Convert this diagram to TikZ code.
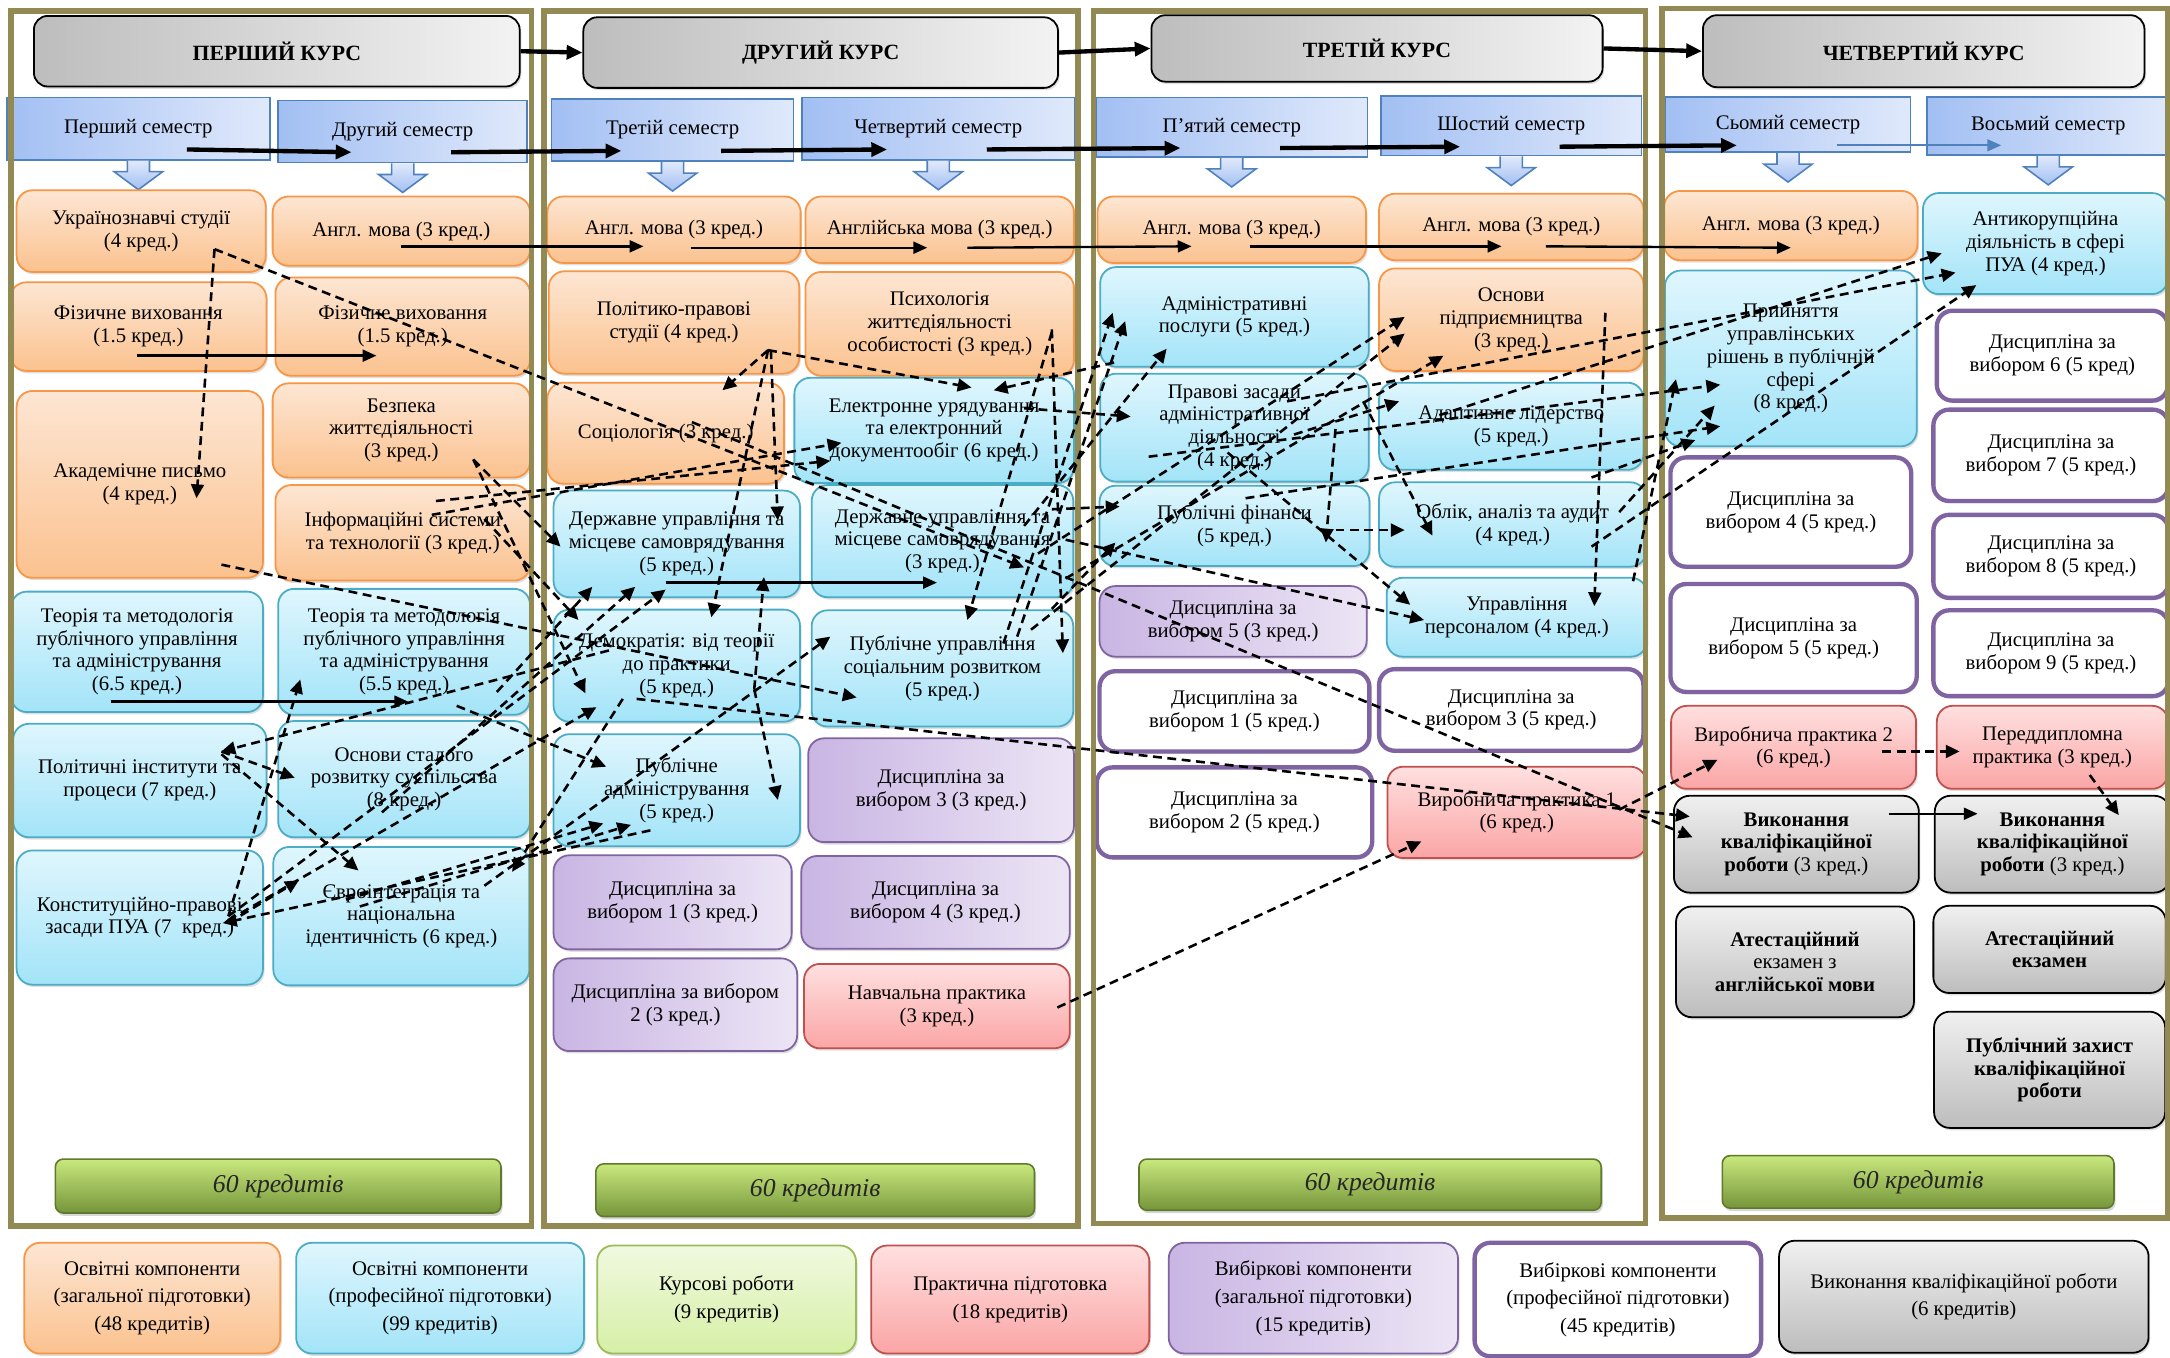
\documentclass[tikz,border=0pt]{standalone}
\usepackage{fontspec}
\setmainfont{Liberation Serif}
\usetikzlibrary{arrows.meta,calc,shadows}
\definecolor{orB}{HTML}{F79646}\definecolor{orT}{HTML}{FDE6D3}\definecolor{orD}{HTML}{FBC28F}
\definecolor{cyB}{HTML}{4BACC6}\definecolor{cyL}{HTML}{DFF6FD}\definecolor{cyD}{HTML}{A3E4F8}
\definecolor{puB}{HTML}{8064A2}\definecolor{puL}{HTML}{ECE5F5}\definecolor{puD}{HTML}{C9B5E3}
\definecolor{rdB}{HTML}{C0504D}\definecolor{rdL}{HTML}{FFE0E0}\definecolor{rdD}{HTML}{FBA5A5}
\definecolor{gyL}{HTML}{F0F0F0}\definecolor{gyD}{HTML}{BDBDBD}
\definecolor{blB}{HTML}{4F81BD}\definecolor{blL}{HTML}{E0E9FB}\definecolor{blD}{HTML}{A2BFF3}
\definecolor{frameol}{HTML}{938953}
\definecolor{grL}{HTML}{C9E87E}\definecolor{grD}{HTML}{76953A}\definecolor{grB}{HTML}{5F7A2C}
\definecolor{lgL}{HTML}{F0F9DF}\definecolor{lgD}{HTML}{D6EFA6}\definecolor{lgB}{HTML}{9BBB59}
\begin{document}
\begin{tikzpicture}[x=0.7pt,y=-0.7pt,
  sz/.style 2 args={minimum width=#1*0.7pt,minimum height=#2*0.7pt},
  crs/.style={rounded corners=8pt,align=center,inner sep=1pt,font=\fontsize{10.5}{11.5}\selectfont,
    drop shadow={opacity=.25,shadow xshift=.8pt,shadow yshift=-1.2pt}},
  obox/.style={crs,draw=orB,line width=.9pt,top color=orT,bottom color=orD},
  cbox/.style={crs,draw=cyB,line width=.9pt,top color=cyL,bottom color=cyD},
  pbox/.style={crs,draw=puB,line width=.9pt,left color=puD,right color=puL},
  wbox/.style={crs,draw=puB,line width=2.2pt,fill=white},
  rbox/.style={crs,draw=rdB,line width=.9pt,top color=rdL,bottom color=rdD},
  gbox/.style={crs,draw=black,line width=.9pt,top color=gyL,bottom color=gyD},
  lbox/.style={crs,draw=lgB,line width=.9pt,top color=lgL,bottom color=lgD},
  legend/.style={font=\fontsize{10.5}{14}\selectfont},
  sembox/.style={draw=blB,line width=.8pt,left color=blD,right color=blL,inner sep=1pt,
    font=\fontsize{10.5}{11.5}\selectfont},
  semdown/.style={draw=blB,line width=.8pt,top color=blL,bottom color=blD},
  kursbox/.style={gbox,left color=gyD,right color=gyL!80!white,rounded corners=7pt,
    font=\bfseries\fontsize{11}{12}\selectfont},
  credbar/.style={rounded corners=4pt,draw=grB,line width=.8pt,top color=grL,bottom color=grD,
    text=black!85,font=\itshape\fontsize{13}{14}\selectfont,
    drop shadow={opacity=.3,shadow xshift=.8pt,shadow yshift=-1.5pt}},
  yearframe/.style={draw=frameol,line width=2.8pt},
  dep/.style={line width=1.3pt,dash pattern=on 4.5pt off 2.8pt,-{Triangle[length=7pt,width=6.5pt]}},
  seq/.style={line width=1.2pt,-{Triangle[length=7pt,width=6pt]}},
  semseq/.style={line width=2.2pt,-{Triangle[length=8pt,width=7pt]}}]
\fill[white] (0,0) rectangle (1568,981);
\useasboundingbox (0,0) rectangle (1568,981);

\node[kursbox,sz={351}{51}] (kurs1) at (200,37) {ПЕРШИЙ КУРС};
\node[kursbox,sz={343}{51}] (kurs2) at (593,38) {ДРУГИЙ КУРС};
\node[kursbox,sz={326}{48}] (kurs3) at (995,35) {ТРЕТІЙ КУРС};
\node[kursbox,sz={319}{52}] (kurs4) at (1390,37) {ЧЕТВЕРТИЙ КУРС};

\node[sembox,sz={190}{45}] (s1) at (100,93) {Перший семестр};
\node[sembox,sz={180}{45}] (s2) at (291,95) {Другий семестр};
\node[sembox,sz={175}{45}] (s3) at (486,94) {Третій семестр};
\node[sembox,sz={197}{45}] (s4) at (678,93) {Четвертий семестр};
\node[sembox,sz={196}{43}] (s5) at (890,92) {П’ятий семестр};
\node[sembox,sz={188}{43}] (s6) at (1092,91) {Шостий семестр};
\node[sembox,sz={177}{40}] (s7) at (1292,90) {Сьомий семестр};
\node[sembox,sz={175}{42}] (s8) at (1480,91) {Восьмий семестр};
\foreach \i in {1,...,8}
  \draw[semdown] ($(s\i.south)+(-8,0)$) -- ++(0,8) -- ++(-9.5,0) -- ++(17.5,13) -- ++(17.5,-13) -- ++(-9.5,0) -- ++(0,-8);

\node[obox,sz={180}{59}] (ukr) at (102,167) {Українознавчі студії\\(4 кред.)};
\node[obox,sz={185}{64}] (fiz1) at (100,236) {Фізичне виховання\\(1.5 кред.)};
\node[obox,sz={178}{135}] (akad) at (101,350) {Академічне письмо\\(4 кред.)};
\node[cbox,sz={182}{87}] (teor1) at (99,471) {Теорія та методологія\\публічного управління\\та адміністрування\\(6.5 кред.)};
\node[cbox,sz={183}{82}] (polit) at (101,564) {Політичні інститути та\\процеси (7 кред.)};
\node[cbox,sz={178}{97}] (konst) at (101,663) {Конституційно-правові\\засади ПУА (7\ \ кред.)};

\node[obox,sz={186}{50}] (eng2) at (290,167) {Англ. мова (3 кред.)};
\node[obox,sz={184}{71}] (fiz2) at (291,236) {Фізичне виховання\\(1.5 кред.)};
\node[obox,sz={186}{68}] (bezp) at (290,311) {Безпека\\життєдіяльності\\(3 кред.)};
\node[obox,sz={184}{69}] (inf) at (291,385) {Інформаційні системи\\та технології (3 кред.)};
\node[cbox,sz={182}{91}] (teor2) at (292,471) {Теорія та методологія\\публічного управління\\та адміністрування\\(5.5 кред.)};
\node[cbox,sz={182}{84}] (stal) at (292,563) {Основи сталого\\розвитку суспільства\\(8 кред.)};
\node[cbox,sz={185}{100}] (evro) at (290,662) {Євроінтеграція та\\національна\\ідентичність (6 кред.)};

\node[obox,sz={183}{48}] (eng3) at (487,166) {Англ. мова (3 кред.)};
\node[obox,sz={181}{74}] (polpr) at (487,233) {Політико-правові\\студії (4 кред.)};
\node[obox,sz={171}{73}] (soc) at (481,313) {Соціологія (3 кред.)};
\node[cbox,sz={178}{77}] (du3) at (489,393) {Державне управління та\\місцеве самоврядування\\(5 кред.)};
\node[cbox,sz={178}{81}] (dem) at (489,481) {Демократія: від теорії\\до практики\\(5 кред.)};
\node[cbox,sz={178}{81}] (pubadm) at (489,571) {Публічне\\адміністрування\\(5 кред.)};
\node[pbox,sz={172}{68}] (vyb1) at (486,652) {Дисципліна за\\вибором 1 (3 кред.)};
\node[pbox,sz={176}{67}] (vyb2) at (488,726) {Дисципліна за вибором\\2 (3 кред.)};

\node[obox,sz={194}{48}] (eng4) at (679,166) {Англійська мова (3 кред.)};
\node[obox,sz={194}{75}] (psych) at (679,234) {Психологія\\життєдіяльності\\особистості (3 кред.)};
\node[cbox,sz={202}{76}] (el) at (675,311) {Електронне урядування\\та електронний\\документообіг (6 кред.)};
\node[cbox,sz={189}{81}] (du4) at (681,391) {Державне управління та\\місцеве самоврядування\\(3 кред.)};
\node[cbox,sz={189}{84}] (psr) at (681,483) {Публічне управління\\соціальним розвитком\\(5 кред.)};
\node[pbox,sz={192}{75}] (vyb3) at (680,571) {Дисципліна за\\вибором 3 (3 кред.)};
\node[pbox,sz={194}{67}] (vyb4) at (676,652) {Дисципліна за\\вибором 4 (3 кред.)};
\node[rbox,sz={192}{61}] (navch) at (677,727) {Навчальна практика\\(3 кред.)};

\node[obox,sz={194}{48}] (eng5) at (890,166) {Англ. мова (3 кред.)};
\node[cbox,sz={194}{72}] (admp) at (892,229) {Адміністративні\\послуги (5 кред.)};
\node[cbox,sz={194}{78}] (prav) at (892,309) {Правові засади\\адміністративної\\діяльності\\(4 кред.)};
\node[cbox,sz={195}{58}] (fin) at (892,380) {Публічні фінанси\\(5 кред.)};
\node[pbox,sz={193}{51}] (vyb5) at (891,449) {Дисципліна за\\вибором 5 (3 кред.)};
\node[wbox,sz={195}{58}] (vybp1) at (892,514) {Дисципліна за\\вибором 1 (5 кред.)};
\node[wbox,sz={199}{65}] (vybp2) at (892,587) {Дисципліна за\\вибором 2 (5 кред.)};

\node[obox,sz={191}{48}] (eng6) at (1092,164) {Англ. мова (3 кред.)};
\node[obox,sz={191}{74}] (pidpr) at (1092,231) {Основи\\підприємництва\\(3 кред.)};
\node[cbox,sz={191}{63}] (adapt) at (1092,308) {Адаптивне лідерство\\(5 кред.)};
\node[cbox,sz={193}{61}] (oblik) at (1093,379) {Облік, аналіз та аудит\\(4 кред.)};
\node[cbox,sz={188}{57}] (pers) at (1096,446) {Управління\\персоналом (4 кред.)};
\node[wbox,sz={191}{59}] (vybp3) at (1092,513) {Дисципліна за\\вибором 3 (5 кред.)};
\node[rbox,sz={187}{66}] (vyrob1) at (1096,587) {Виробнича практика 1\\(6 кред.)};

\node[obox,sz={183}{50}] (eng7) at (1294,163) {Англ. мова (3 кред.)};
\node[cbox,sz={182}{127}] (pryin) at (1294,259) {Прийняття\\управлінських\\рішень в публічній\\сфері\\(8 кред.)};
\node[wbox,sz={174}{79}] (vybp4) at (1294,370) {Дисципліна за\\вибором 4 (5 кред.)};
\node[wbox,sz={178}{78}] (vybp5) at (1296,461) {Дисципліна за\\вибором 5 (5 кред.)};
\node[rbox,sz={177}{60}] (vyrob2) at (1296,540) {Виробнича практика 2\\(6 кред.)};
\node[gbox,sz={177}{70}] (kval7) at (1298,610) {\textbf{Виконання}\\\textbf{кваліфікаційної}\\\textbf{роботи} (3 кред.)};
\node[gbox,sz={172}{80}] (atest7) at (1297,695) {\textbf{Атестаційний}\\екзамен з\\\textbf{англійської мови}};

\node[cbox,sz={177}{73}] (antyk) at (1478,176) {Антикорупційна\\діяльність в сфері\\ПУА (4 кред.)};
\node[wbox,sz={167}{65}] (vybp6) at (1483,257) {Дисципліна за\\вибором 6 (5 кред)};
\node[wbox,sz={170}{66}] (vybp7) at (1482,329) {Дисципліна за\\вибором 7 (5 кред.)};
\node[wbox,sz={170}{60}] (vybp8) at (1482,402) {Дисципліна за\\вибором 8 (5 кред.)};
\node[wbox,sz={170}{62}] (vybp9) at (1482,472) {Дисципліна за\\вибором 9 (5 кред.)};
\node[rbox,sz={167}{60}] (peredd) at (1483,540) {Переддипломна\\практика (3 кред.)};
\node[gbox,sz={170}{70}] (kval8) at (1483,610) {\textbf{Виконання}\\\textbf{кваліфікаційної}\\\textbf{роботи} (3 кред.)};
\node[gbox,sz={168}{63}] (atest8) at (1481,686) {\textbf{Атестаційний}\\\textbf{екзамен}};
\node[gbox,sz={167}{84}] (zakh) at (1481,773) {\textbf{Публічний захист}\\\textbf{кваліфікаційної}\\\textbf{роботи}};

\node[credbar,sz={322}{39}] (cred1) at (201,857) {60 кредитів};
\node[credbar,sz={317}{38}] (cred2) at (589,860) {60 кредитів};
\node[credbar,sz={334}{37}] (cred3) at (990,856) {60 кредитів};
\node[credbar,sz={283}{38}] (cred4) at (1386,854) {60 кредитів};

\node[obox,legend,sz={185}{80}] (leg1) at (110,938) {Освітні компоненти\\(загальної підготовки)\\(48 кредитів)};
\node[cbox,legend,sz={208}{80}] (leg2) at (318,938) {Освітні компоненти\\(професійної підготовки)\\(99 кредитів)};
\node[lbox,legend,sz={187}{78}] (leg3) at (525,939) {Курсові роботи\\(9 кредитів)};
\node[rbox,legend,sz={201}{78}] (leg4) at (730,939) {Практична підготовка\\(18 кредитів)};
\node[pbox,legend,sz={209}{80}] (leg5) at (949,938) {Вибіркові компоненти\\(загальної підготовки)\\(15 кредитів)};
\node[wbox,legend,sz={207}{82}] (leg6) at (1169,939) {Вибіркові компоненти\\(професійної підготовки)\\(45 кредитів)};
\node[gbox,legend,sz={267}{81}] (leg7) at (1419,937) {Виконання кваліфікаційної роботи\\(6 кредитів)};

\draw[yearframe] (8,8) rectangle (384,886);
\draw[yearframe] (393,8) rectangle (779,886);
\draw[yearframe] (790,8) rectangle (1189,884);
\draw[yearframe] (1201,6) rectangle (1566,880);

\draw[semseq] (kurs1.east) -- (kurs2.west);
\draw[semseq] (kurs2.east) -- (kurs3.west);
\draw[semseq] (kurs3.east) -- (kurs4.west);
\foreach \a/\b in {1/2,2/3,3/4,4/5,5/6,6/7}
  \draw[semseq] ($(s\a)+(35,15)$) -- ($(s\b)+(-37,15)$);
\draw[seq,draw=blB,line width=1pt] ($(s7)+(35,15)$) -- ($(s8)+(-34,14)$);

\draw[seq] ($(eng2)+(0,11)$) -- ($(eng3)+(-22,12)$);
\draw[seq] ($(eng3)+(12,13)$) -- ($(eng4)+(-9,13)$);
\draw[seq] ($(eng4)+(20,13)$) -- ($(eng5)+(-29,12)$);
\draw[seq] ($(eng5)+(13,12)$) -- ($(eng6)+(-7,14)$);
\draw[seq] ($(eng6)+(25,14)$) -- ($(eng7)+(0,16)$);
\draw[seq] ($(fiz1)+(-1,21)$) -- ($(fiz2)+(-19,21)$);
\draw[seq] ($(teor1)+(-19,36)$) -- ($(teor2)+(3,36)$);
\draw[seq] ($(du3)+(-8,28)$) -- ($(du4)+(-4,30)$);
\draw[seq] ($(kval7)+(67,-22)$) -- ($(kval8)+(-54,-22)$);

\draw[dep] ($(ukr)+(53,13)$) -- ($(akad)+(41,10)$);
\draw[dep] ($(ukr)+(53,13)$) -- ($(du4)+(59,19)$);
\draw[dep] ($(akad)+(59,58)$) -- ($(psr)+(-62,21)$);
\draw[dep] ($(dem)+(-29,24)$) -- ($(kval7)+(-77,-20)$);
\draw[dep] ($(soc)+(19,-8)$) -- ($(kval7)+(-75,-5)$);
\draw[dep] ($(polit)+(59,-21)$) -- ($(stal)+(-79,-1)$);
\draw[dep] ($(polit)+(59,-19)$) -- ($(evro)+(-31,-33)$);
\draw[dep] ($(konst)+(64,-1)$) -- ($(teor2)+(-75,20)$);
\draw[dep] ($(konst)+(64,4)$) -- ($(evro)+(-74,-26)$);
\draw[dep] ($(pubadm)+(-19,29)$) -- ($(konst)+(60,4)$);
\draw[dep] ($(dem)+(-49,-11)$) -- ($(polit)+(59,-21)$);
\draw[dep] ($(dem)+(-39,24)$) -- ($(evro)+(80,-32)$);
\draw[dep] ($(inf)+(21,-13)$) -- ($(el)+(-67,9)$);
\draw[dep] ($(inf)+(24,-23)$) -- ($(el)+(-75,22)$);
\draw[dep] ($(bezp)+(52,21)$) -- ($(du3)+(-84,2)$);
\draw[dep] ($(bezp)+(52,21)$) -- ($(dem)+(-66,20)$);
\draw[dep] ($(teor2)+(67,29)$) -- ($(du3)+(-61,31)$);
\draw[dep] ($(stal)+(-16,24)$) -- ($(du3)+(-30,31)$);
\draw[dep] ($(konst)+(64,-1)$) -- ($(du3)+(-8,33)$);
\draw[dep] ($(konst)+(64,2)$) -- ($(dem)+(-58,30)$);
\draw[dep] ($(evro)+(-40,-12)$) -- ($(pubadm)+(-53,24)$);
\draw[dep] ($(evro)+(-30,-7)$) -- ($(pubadm)+(-33,25)$);
\draw[dep] ($(teor2)+(38,39)$) -- ($(pubadm)+(-51,-17)$);
\draw[dep] ($(inf)+(59,-10)$) -- ($(dem)+(-71,-33)$);
\draw[dep] ($(polpr)+(68,20)$) -- ($(soc)+(41,-31)$);
\draw[dep] ($(polpr)+(68,20)$) -- ($(dem)+(25,-35)$);
\draw[dep] ($(polpr)+(68,20)$) -- ($(el)+(27,-31)$);
\draw[dep] ($(polpr)+(70,20)$) -- ($(du3)+(73,-17)$);
\draw[dep] ($(admp)+(-87,33)$) -- ($(el)+(43,-29)$);
\draw[dep] ($(psych)+(81,4)$) -- ($(psr)+(87,-11)$);
\draw[dep] ($(psych)+(81,6)$) -- ($(psr)+(18,-35)$);
\draw[dep] ($(dem)+(56,17)$) -- ($(du3)+(63,24)$);
\draw[dep] ($(dem)+(56,17)$) -- ($(pubadm)+(73,7)$);
\draw[dep] ($(evro)+(60,-22)$) -- ($(psr)+(-81,-23)$);
\draw[dep] ($(psr)+(44,-18)$) -- ($(admp)+(-88,-3)$);
\draw[dep] ($(psr)+(54,-23)$) -- ($(admp)+(-79,3)$);
\draw[dep] ($(du4)+(59,-11)$) -- ($(admp)+(-49,23)$);
\draw[dep] ($(du4)+(69,9)$) -- ($(pidpr)+(-77,-2)$);
\draw[dep] ($(psr)+(64,-28)$) -- ($(pidpr)+(-77,10)$);
\draw[dep] ($(el)+(65,-16)$) -- ($(prav)+(-75,-8)$);
\draw[dep] ($(du4)+(79,-23)$) -- ($(fin)+(-83,-14)$);
\draw[dep] ($(du4)+(89,27)$) -- ($(pidpr)+(-49,26)$);
\draw[dep] ($(psr)+(79,-43)$) -- ($(fin)+(-86,12)$);
\draw[dep] ($(prav)+(73,1)$) -- ($(fin)+(66,12)$);
\draw[dep] ($(fin)+(73,3)$) -- ($(oblik)+(-78,4)$);
\draw[dep] ($(prav)+(93,-19)$) -- ($(oblik)+(-58,8)$);
\draw[dep] ($(prav)+(43,5)$) -- ($(adapt)+(-81,-18)$);
\draw[dep] ($(du4)+(89,-1)$) -- ($(pers)+(-67,2)$);
\draw[dep] ($(prav)+(-5,18)$) -- ($(pers)+(-77,-9)$);
\draw[dep] ($(pidpr)+(68,-5)$) -- ($(pers)+(56,-8)$);
\draw[dep] ($(pers)+(84,-26)$) -- ($(pryin)+(-83,15)$);
\draw[dep] ($(prav)+(-62,21)$) -- ($(pryin)+(-51,19)$);
\draw[dep] ($(oblik)+(77,-9)$) -- ($(pryin)+(-55,34)$);
\draw[dep] ($(fin)+(8,-20)$) -- ($(pryin)+(-51,49)$);
\draw[dep] ($(oblik)+(57,-34)$) -- ($(pryin)+(-69,59)$);
\draw[dep] ($(adapt)+(-52,-8)$) -- ($(antyk)+(-75,7)$);
\draw[dep] ($(prav)+(38,-19)$) -- ($(antyk)+(-65,21)$);
\draw[dep] ($(oblik)+(57,16)$) -- ($(antyk)+(-50,30)$);
\draw[dep] ($(vyrob1)+(74,-2)$) -- ($(vyrob2)+(-55,9)$);
\draw[dep] ($(vyrob2)+(64,3)$) -- ($(peredd)+(-67,3)$);
\draw[dep] ($(peredd)+(27,20)$) -- ($(kval8)+(48,-21)$);
\draw[dep] ($(navch)+(87,1)$) -- ($(vyrob1)+(-69,21)$);
\end{tikzpicture}
\end{document}
